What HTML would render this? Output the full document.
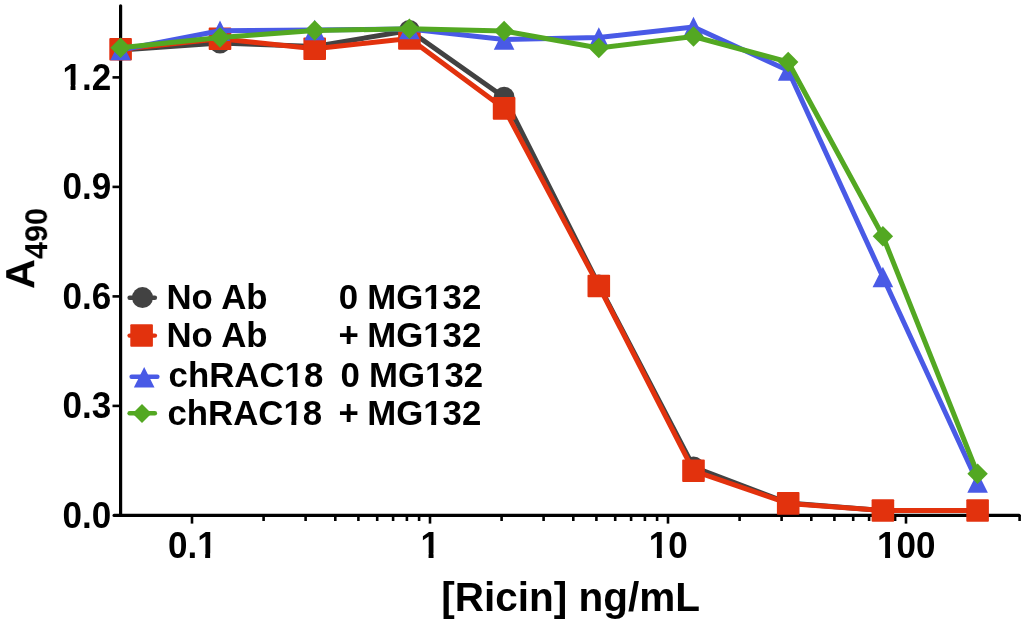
<!DOCTYPE html>
<html><head><meta charset="utf-8"><title>Ricin chart</title>
<style>html,body{margin:0;padding:0;background:#fff}body{width:1024px;height:624px;overflow:hidden}svg{display:block}</style>
</head><body>
<svg width="1024" height="624" viewBox="0 0 1024 624">
<rect width="1024" height="624" fill="#fff"/>
<defs><filter id="soft" x="0" y="0" width="1024" height="624" filterUnits="userSpaceOnUse"><feGaussianBlur stdDeviation="0.5"/></filter></defs>
<g filter="url(#soft)">
<g stroke="#000" stroke-width="3.2" fill="none" stroke-linecap="round">
<line x1="120.6" y1="5.8" x2="120.6" y2="515.4"/>
<line x1="114.1" y1="515.4" x2="1019.2" y2="515.4"/>
</g>
<g stroke="#000" stroke-width="2.6">
<line x1="112.5" y1="77.4" x2="120" y2="77.4"/>
<line x1="112.5" y1="186.9" x2="120" y2="186.9"/>
<line x1="112.5" y1="296.4" x2="120" y2="296.4"/>
<line x1="112.5" y1="405.9" x2="120" y2="405.9"/>
<line x1="192.0" y1="515" x2="192.0" y2="523.6"/>
<line x1="263.6" y1="515" x2="263.6" y2="521"/>
<line x1="305.6" y1="515" x2="305.6" y2="521"/>
<line x1="335.3" y1="515" x2="335.3" y2="521"/>
<line x1="358.4" y1="515" x2="358.4" y2="521"/>
<line x1="377.2" y1="515" x2="377.2" y2="521"/>
<line x1="393.1" y1="515" x2="393.1" y2="521"/>
<line x1="406.9" y1="515" x2="406.9" y2="521"/>
<line x1="419.1" y1="515" x2="419.1" y2="521"/>
<line x1="430.0" y1="515" x2="430.0" y2="523.6"/>
<line x1="501.6" y1="515" x2="501.6" y2="521"/>
<line x1="543.6" y1="515" x2="543.6" y2="521"/>
<line x1="573.3" y1="515" x2="573.3" y2="521"/>
<line x1="596.4" y1="515" x2="596.4" y2="521"/>
<line x1="615.2" y1="515" x2="615.2" y2="521"/>
<line x1="631.1" y1="515" x2="631.1" y2="521"/>
<line x1="644.9" y1="515" x2="644.9" y2="521"/>
<line x1="657.1" y1="515" x2="657.1" y2="521"/>
<line x1="668.0" y1="515" x2="668.0" y2="523.6"/>
<line x1="739.6" y1="515" x2="739.6" y2="521"/>
<line x1="781.6" y1="515" x2="781.6" y2="521"/>
<line x1="811.3" y1="515" x2="811.3" y2="521"/>
<line x1="834.4" y1="515" x2="834.4" y2="521"/>
<line x1="853.2" y1="515" x2="853.2" y2="521"/>
<line x1="869.1" y1="515" x2="869.1" y2="521"/>
<line x1="882.9" y1="515" x2="882.9" y2="521"/>
<line x1="895.1" y1="515" x2="895.1" y2="521"/>
<line x1="906.0" y1="515" x2="906.0" y2="523.6"/>
<line x1="977.6" y1="515" x2="977.6" y2="521"/>
<line x1="1019.6" y1="515" x2="1019.6" y2="521"/>
</g>
<polyline points="120.6,50.0 220.0,43.0 314.7,46.5 409.4,30.5 504.1,97.2 598.8,285.0 693.5,467.0 788.2,503.0 882.9,510.5 977.6,510.5" fill="none" stroke="#424242" stroke-width="5" stroke-linejoin="round"/>
<circle cx="120.6" cy="50.0" r="10.5" fill="#424242"/>
<circle cx="220.0" cy="43.0" r="10.5" fill="#424242"/>
<circle cx="314.7" cy="46.5" r="10.5" fill="#424242"/>
<circle cx="409.4" cy="30.5" r="10.5" fill="#424242"/>
<circle cx="504.1" cy="97.2" r="10.5" fill="#424242"/>
<circle cx="598.8" cy="285.0" r="10.5" fill="#424242"/>
<circle cx="693.5" cy="467.0" r="10.5" fill="#424242"/>
<circle cx="788.2" cy="503.0" r="10.5" fill="#424242"/>
<circle cx="882.9" cy="510.5" r="10.5" fill="#424242"/>
<circle cx="977.6" cy="510.5" r="10.5" fill="#424242"/>
<polyline points="120.6,49.2 220.0,38.8 314.7,48.8 409.4,38.5 504.1,108.4 598.8,286.0 693.5,470.8 788.2,503.4 882.9,510.5 977.6,510.5" fill="none" stroke="#e23010" stroke-width="5" stroke-linejoin="round"/>
<rect x="109.3" y="38.0" width="22.6" height="22.6" rx="1" fill="#e23010"/>
<rect x="208.7" y="27.5" width="22.6" height="22.6" rx="1" fill="#e23010"/>
<rect x="303.4" y="37.5" width="22.6" height="22.6" rx="1" fill="#e23010"/>
<rect x="398.1" y="27.2" width="22.6" height="22.6" rx="1" fill="#e23010"/>
<rect x="492.8" y="97.1" width="22.6" height="22.6" rx="1" fill="#e23010"/>
<rect x="587.5" y="274.7" width="22.6" height="22.6" rx="1" fill="#e23010"/>
<rect x="682.2" y="459.4" width="22.6" height="22.6" rx="1" fill="#e23010"/>
<rect x="776.9" y="492.1" width="22.6" height="22.6" rx="1" fill="#e23010"/>
<rect x="871.6" y="499.2" width="22.6" height="22.6" rx="1" fill="#e23010"/>
<rect x="966.3" y="499.2" width="22.6" height="22.6" rx="1" fill="#e23010"/>
<polyline points="120.6,50.0 220.0,30.7 314.7,30.0 409.4,29.0 504.1,39.5 598.8,37.5 693.5,27.0 788.2,70.5 882.9,277.0 977.6,482.5" fill="none" stroke="#4a5ae6" stroke-width="5" stroke-linejoin="round"/>
<polygon points="120.6,39.8 130.9,60.2 110.3,60.2" fill="#4a5ae6"/>
<polygon points="220.0,20.5 230.3,40.9 209.7,40.9" fill="#4a5ae6"/>
<polygon points="314.7,19.8 325.0,40.2 304.4,40.2" fill="#4a5ae6"/>
<polygon points="409.4,18.8 419.7,39.2 399.1,39.2" fill="#4a5ae6"/>
<polygon points="504.1,29.3 514.4,49.7 493.8,49.7" fill="#4a5ae6"/>
<polygon points="598.8,27.3 609.1,47.7 588.5,47.7" fill="#4a5ae6"/>
<polygon points="693.5,16.8 703.8,37.2 683.2,37.2" fill="#4a5ae6"/>
<polygon points="788.2,60.3 798.5,80.7 777.9,80.7" fill="#4a5ae6"/>
<polygon points="882.9,266.8 893.2,287.2 872.6,287.2" fill="#4a5ae6"/>
<polygon points="977.6,472.3 987.9,492.7 967.3,492.7" fill="#4a5ae6"/>
<polyline points="120.6,47.7 220.0,37.5 314.7,30.5 409.4,28.8 504.1,31.0 598.8,48.0 693.5,36.5 788.2,62.0 882.9,236.2 977.6,473.8" fill="none" stroke="#52a822" stroke-width="5" stroke-linejoin="round"/>
<polygon points="120.6,37.5 130.8,47.7 120.6,57.9 110.4,47.7" fill="#52a822"/>
<polygon points="220.0,27.3 230.2,37.5 220.0,47.7 209.8,37.5" fill="#52a822"/>
<polygon points="314.7,20.3 324.9,30.5 314.7,40.7 304.5,30.5" fill="#52a822"/>
<polygon points="409.4,18.6 419.6,28.8 409.4,39.0 399.2,28.8" fill="#52a822"/>
<polygon points="504.1,20.8 514.3,31.0 504.1,41.2 493.9,31.0" fill="#52a822"/>
<polygon points="598.8,37.8 609.0,48.0 598.8,58.2 588.6,48.0" fill="#52a822"/>
<polygon points="693.5,26.3 703.7,36.5 693.5,46.7 683.3,36.5" fill="#52a822"/>
<polygon points="788.2,51.8 798.4,62.0 788.2,72.2 778.0,62.0" fill="#52a822"/>
<polygon points="882.9,226.1 893.1,236.2 882.9,246.4 872.7,236.2" fill="#52a822"/>
<polygon points="977.6,463.6 987.8,473.8 977.6,483.9 967.4,473.8" fill="#52a822"/>
<line x1="129.6" y1="297.8" x2="154.9" y2="297.8" stroke="#424242" stroke-width="4.4" stroke-linecap="round"/>
<circle cx="142.5" cy="297.6" r="10.5" fill="#424242"/>
<line x1="129.6" y1="335.6" x2="154.9" y2="335.6" stroke="#e23010" stroke-width="4.4" stroke-linecap="round"/>
<rect x="130.3" y="324.2" width="22.6" height="22.6" rx="1" fill="#e23010"/>
<line x1="131.6" y1="376.8" x2="157.4" y2="376.8" stroke="#4a5ae6" stroke-width="4.4" stroke-linecap="round"/>
<polygon points="144.2,367.0 154.5,387.4 133.9,387.4" fill="#4a5ae6"/>
<line x1="129.6" y1="413.2" x2="154.9" y2="413.2" stroke="#52a822" stroke-width="4.4" stroke-linecap="round"/>
<polygon points="142.0,403.9 151.5,413.4 142.0,422.9 132.5,413.4" fill="#52a822"/>
<g font-family="'Liberation Sans', Arial, Helvetica, sans-serif" font-weight="bold" fill="#000">
<g font-size="34.8">
<text x="166.4" y="308.9">No Ab</text>
<text x="166.4" y="347.4">No Ab</text>
<text x="168.6" y="387.2">chRAC18</text><g fill="#fff"><rect x="285.63" y="382.50" width="6.93" height="5.90"/><rect x="297.48" y="382.50" width="6.61" height="5.90"/></g>
<text x="167.4" y="425.2">chRAC18</text><g fill="#fff"><rect x="284.43" y="420.50" width="6.93" height="5.90"/><rect x="296.28" y="420.50" width="6.61" height="5.90"/></g>
<text y="308.9"><tspan x="338.8">0</tspan> <tspan x="367.2">MG132</tspan></text><g fill="#fff"><rect x="424.29" y="304.20" width="6.93" height="5.90"/><rect x="436.14" y="304.20" width="6.61" height="5.90"/></g>
<text y="347.4"><tspan x="338.6">+</tspan> <tspan x="367.2">MG132</tspan></text><g fill="#fff"><rect x="424.29" y="342.70" width="6.93" height="5.90"/><rect x="436.14" y="342.70" width="6.61" height="5.90"/></g>
<text y="387.2"><tspan x="340.4">0</tspan> <tspan x="369">MG132</tspan></text><g fill="#fff"><rect x="426.09" y="382.50" width="6.93" height="5.90"/><rect x="437.94" y="382.50" width="6.61" height="5.90"/></g>
<text y="425.2"><tspan x="338.6">+</tspan> <tspan x="367.2">MG132</tspan></text><g fill="#fff"><rect x="424.29" y="420.50" width="6.93" height="5.90"/><rect x="436.14" y="420.50" width="6.61" height="5.90"/></g>
</g>
<g font-size="36.5">
<text transform="translate(111.2,89.7) scale(0.96,1)" text-anchor="end">1.2</text><g fill="#fff" transform="translate(111.2,89.7) scale(0.96,1)"><rect x="-49.64" y="-4.93" width="7.26" height="6.13"/><rect x="-37.21" y="-4.93" width="6.94" height="6.13"/></g>
<text transform="translate(111.2,199.2) scale(0.96,1)" text-anchor="end">0.9</text>
<text transform="translate(111.2,308.7) scale(0.96,1)" text-anchor="end">0.6</text>
<text transform="translate(111.2,418.2) scale(0.96,1)" text-anchor="end">0.3</text>
<text transform="translate(111.2,527.7) scale(0.96,1)" text-anchor="end">0.0</text>
<text transform="translate(192.3,558.4) scale(0.96,1)" text-anchor="middle">0.1</text><g fill="#fff" transform="translate(192.3,558.4) scale(0.96,1)"><rect x="6.14" y="-4.93" width="7.26" height="6.13"/><rect x="18.57" y="-4.93" width="6.94" height="6.13"/></g>
<text transform="translate(430.3,558.4) scale(0.96,1)" text-anchor="middle">1</text><g fill="#fff" transform="translate(430.3,558.4) scale(0.96,1)"><rect x="-9.06" y="-4.93" width="7.26" height="6.13"/><rect x="3.37" y="-4.93" width="6.94" height="6.13"/></g>
<text transform="translate(668.3,558.4) scale(0.96,1)" text-anchor="middle">10</text><g fill="#fff" transform="translate(668.3,558.4) scale(0.96,1)"><rect x="-19.21" y="-4.93" width="7.26" height="6.13"/><rect x="-6.77" y="-4.93" width="6.94" height="6.13"/></g>
<text transform="translate(906.3,558.4) scale(0.96,1)" text-anchor="middle">100</text><g fill="#fff" transform="translate(906.3,558.4) scale(0.96,1)"><rect x="-29.35" y="-4.93" width="7.26" height="6.13"/><rect x="-16.92" y="-4.93" width="6.94" height="6.13"/></g>
</g>
<text x="441.3" y="610.8" font-size="40.5">[Ricin] ng/mL</text>
<text transform="translate(34.2,289) rotate(-90)" font-size="41.5">A<tspan font-size="30.5" dy="13.4">490</tspan></text>
</g>
</g>
</svg>
</body></html>
